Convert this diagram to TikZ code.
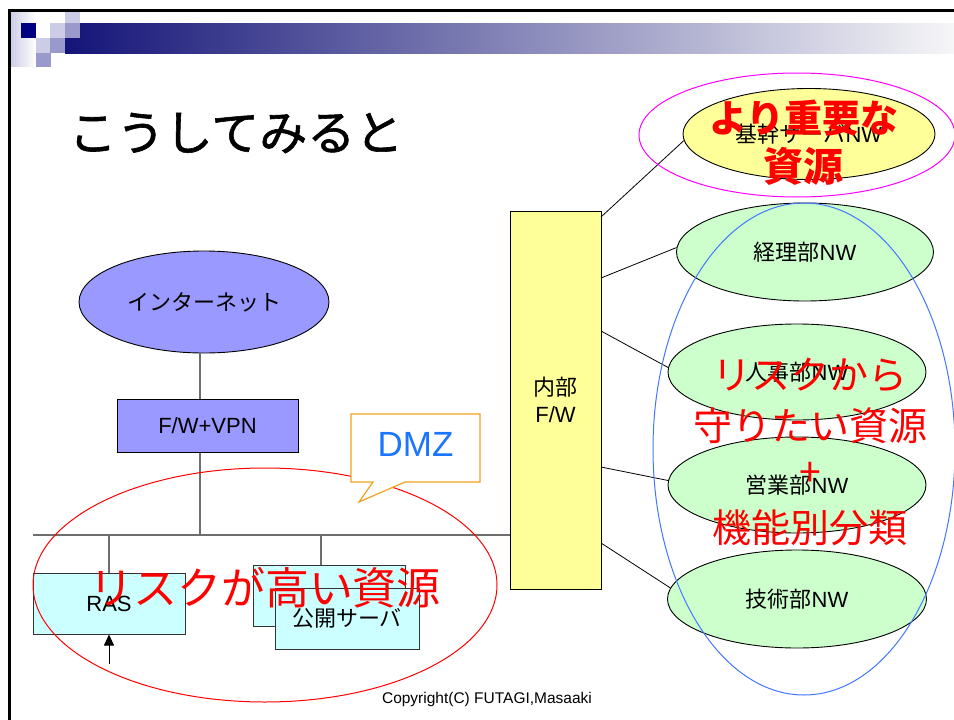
\documentclass[tikz,border=0pt]{standalone}
\usepackage{fontspec}
\setmainfont{Liberation Sans}
\newfontfamily\jp{Noto Sans CJK JP}
\newfontfamily\jptitle[FakeBold=1.2]{Noto Sans CJK JP}
\usetikzlibrary{shapes.geometric,arrows.meta}
\definecolor{navyc}{RGB}{0,0,128}
\definecolor{barstart}{RGB}{20,20,120}
\definecolor{barmid}{RGB}{150,150,186}
\definecolor{barend}{RGB}{246,246,248}
\definecolor{lavlight}{RGB}{204,204,230}
\definecolor{lavmid}{RGB}{153,153,204}
\definecolor{inetblue}{RGB}{153,153,255}
\definecolor{nwgreen}{RGB}{204,255,204}
\definecolor{fwyellow}{RGB}{255,255,153}
\definecolor{srvcyan}{RGB}{204,255,255}
\definecolor{dmzblue}{RGB}{26,117,255}
\definecolor{dmzorange}{RGB}{245,160,30}
\definecolor{ringblue}{RGB}{68,119,255}
\definecolor{ringpink}{RGB}{255,0,255}
\definecolor{linegray}{RGB}{110,110,110}
\newcommand\myfs[1]{\fontsize{#1}{#1}\selectfont}
\begin{document}
\begin{tikzpicture}[x=1pt,y=-1pt,line width=1pt,
  net/.style={ellipse,draw=black,line width=0.9pt,inner sep=0pt,font=\myfs{22}},
  box/.style={rectangle,draw=black,line width=1pt,inner sep=0pt,font=\myfs{22}},
  link/.style={draw=black,line width=0.8pt},
  wire/.style={draw=linegray,line width=1.4pt},
  redtxt/.style={text=red,inner sep=0pt,font=\jp\myfs{39}},
  ring/.style={line width=1pt}]
\fill[white] (0,0) rectangle (954,720);
\useasboundingbox (0,0) rectangle (954,720);
% header decoration
\shade[left color=lavlight,right color=white] (10,12) rectangle (36,66);
\shade[left color=barstart,middle color=barmid,right color=barend] (65,23) rectangle (954,53);
\fill[navyc] (21,23) rectangle (36,38);
\fill[lavlight] (50,23) rectangle (65,38);
\fill[lavmid] (65,23) rectangle (80,38);
\fill[lavlight] (65,12) rectangle (80,23);
\fill[lavlight] (36,38) rectangle (50,53);
\fill[lavmid] (50,38) rectangle (65,53);
\fill[lavmid] (36,53) rectangle (51,67);
\draw[line width=3pt] (8,10) -- (954,10);
\draw[line width=3pt] (9,10) -- (9,720);
% title
\node[font=\jptitle\myfs{48},inner sep=0pt] (title) at (236,133) {こうしてみると};
% left network
\node[net,fill=inetblue,minimum width=250pt,minimum height=102pt] (inet) at (204,302) {\jp インターネット};
\node[box,fill=inetblue,minimum width=181pt,minimum height=53pt] (vpn) at (207.5,425.5) {F/W+VPN};
\node[box,fill=fwyellow,minimum width=91pt,minimum height=378pt,align=center,font=\myfs{22}] (fwin) at (555.5,400) {{\jp 内部}\\[5pt]F/W};
\node[box,fill=srvcyan,draw=black!80,minimum width=152pt,minimum height=61pt] (ras) at (109,603.5) {RAS};
\node[box,fill=srvcyan,draw=black!80,minimum width=152pt,minimum height=61pt] (srvback) at (329,595.5) {};
\node[box,fill=srvcyan,draw=black!80,minimum width=144pt,minimum height=61pt] (srvfront) at (347,618.5) {\jp 公開サーバ};
\coordinate (v1) at (200,535);
\coordinate (busL) at (33,535);
\coordinate (d2) at (321,535);
\coordinate (arrbot) at (109,664);
\draw[wire] (inet.south -| v1) -- (vpn.north -| v1);
\draw[wire] (vpn.south -| v1) -- (v1);
\draw[wire] (busL) -- (busL -| fwin.west);
\draw[wire] (ras.north |- busL) -- (ras.north);
\draw[wire] (d2) -- (d2 |- srvback.north);
\draw[link,-{Triangle[length=11pt,width=10pt]}] (arrbot) -- (ras.south);
% right networks
\node[net,fill=fwyellow,minimum width=252pt,minimum height=91pt] (kikan) at (809,134) {\jp 基幹サーバ\rmfamily NW};
\node[net,fill=nwgreen,minimum width=257pt,minimum height=98pt] (keiri) at (805,252) {\jp 経理部\rmfamily NW};
\node[net,fill=nwgreen,minimum width=258pt,minimum height=96pt] (jinji) at (797,372) {\jp 人事部\rmfamily NW};
\node[net,fill=nwgreen,minimum width=258pt,minimum height=96pt] (eigyo) at (797,485) {\jp 営業部\rmfamily NW};
\node[net,fill=nwgreen,minimum width=259pt,minimum height=98pt] (gijutsu) at (797,599) {\jp 技術部\rmfamily NW};
\coordinate (c1) at (601,217);
\coordinate (c2) at (601,278);
\coordinate (c3) at (601,331);
\coordinate (c4) at (601,467);
\coordinate (c5) at (601,543);
\draw[link] (c1) -- (kikan.183);
\draw[link] (c2) -- (keiri.178);
\draw[link] (c3) -- (jinji.178);
\draw[link] (c4) -- (eigyo.178);
\draw[link] (c5) -- (gijutsu.175);
% grouping rings
\draw[ring,red] (265,585) ellipse [x radius=232pt,y radius=117pt];
\draw[ring,ringpink] (797,135) ellipse [x radius=158pt,y radius=62pt];
\draw[ring,ringblue] (804,449) ellipse [x radius=151pt,y radius=246pt];
% DMZ callout
\draw[dmzorange,fill=white,line width=1.2pt] (351,414) -- (480,414) -- (480,482) -- (405,482) -- (359,502) -- (373,482) -- (351,482) -- cycle;
\node[text=dmzblue,font=\myfs{35},inner sep=0pt] (dmz) at (415.5,444) {DMZ};
% red annotations
\node[redtxt,font=\jp\myfs{44}] (risk) at (265,588) {リスクが高い資源};
\node[redtxt,font=\jp\bfseries\myfs{38}] (imp1) at (804,118) {より重要な};
\node[redtxt,font=\jp\bfseries\myfs{40}] (imp2) at (803,166) {資源};
\node[redtxt] (prot1) at (810,375) {リスクから};
\node[redtxt] (prot2) at (810,426) {守りたい資源};
\node[redtxt] (prot3) at (810,474) {+};
\node[redtxt] (prot4) at (810,528) {機能別分類};
% footer
\node[font=\myfs{15.5},inner sep=0pt] (copy) at (487,699) {Copyright(C) FUTAGI,Masaaki};
\end{tikzpicture}
\end{document}
